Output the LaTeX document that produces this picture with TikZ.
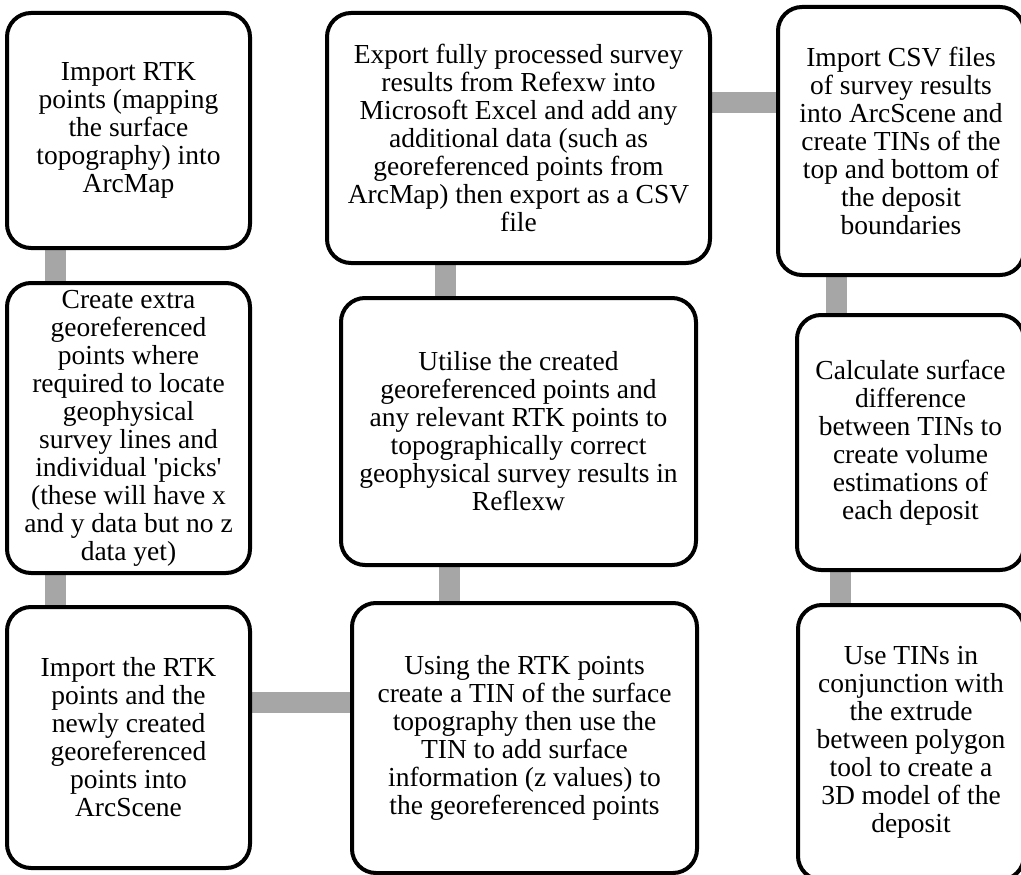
\documentclass[tikz,border=0pt]{standalone}
\usepackage{fontspec}
\setmainfont{Liberation Serif}
\usetikzlibrary{backgrounds}
\definecolor{linkgray}{HTML}{A6A6A6}

\begin{document}
\begin{tikzpicture}[x=1pt, y=-1pt,
        stepbox/.style={draw, line width=4pt, rounded corners=24pt, fill=white,
            align=center, inner sep=0pt, font=\fontsize{27.5}{28}\selectfont},
        link/.style={line width=21pt, draw=linkgray}]

        % Frame of the page (boxes on the right run off the edge)
        \useasboundingbox (0,0) rectangle (1021,875);
        \clip (0,0) rectangle (1021,875);

        % Left column
        \node[stepbox, minimum width=243pt, minimum height=235pt] (rtk) at (128.5,130.5) {Import RTK\\points (mapping\\the surface\\topography) into\\ArcMap};
        \node[stepbox, minimum width=243pt, minimum height=290pt] (extra) at (128.5,428) {Create extra\\georeferenced\\points where\\required to locate\\geophysical\\survey lines and\\individual \textquotesingle picks\textquotesingle\\(these will have x\\and y data but no z\\data yet)};
        \node[stepbox, minimum width=243pt, minimum height=261pt] (arcscene) at (128.5,737.5) {Import the RTK\\points and the\\newly created\\georeferenced\\points into\\ArcScene};

        % Middle column
        \node[stepbox, minimum width=345pt, minimum height=270pt] (tin) at (524.5,738) {Using the RTK points\\create a TIN of the surface\\topography then use the\\TIN to add surface\\information (z values) to\\the georeferenced points};
        \node[stepbox, minimum width=355pt, minimum height=267pt] (reflexw) at (518.5,431.5) {Utilise the created\\georeferenced points and\\any relevant RTK points to\\topographically correct\\geophysical survey results in\\Reflexw};
        \node[stepbox, minimum width=383pt, minimum height=250pt] (export) at (518.5,138) {Export fully processed survey\\results from Refexw into\\Microsoft Excel and add any\\additional data (such as\\georeferenced points from\\ArcMap) then export as a CSV\\file};

        % Right column
        \node[stepbox, minimum width=246pt, minimum height=268pt] (csv) at (901,141) {Import CSV files\\of survey results\\into ArcScene and\\create TINs of the\\top and bottom of\\the deposit\\boundaries};
        \node[stepbox, minimum width=227pt, minimum height=255pt] (volume) at (910.5,442.5) {Calculate surface\\difference\\between TINs to\\create volume\\estimations of\\each deposit};
        \node[stepbox, minimum width=226pt, minimum height=275pt] (model) at (911,742.5) {Use TINs in\\conjunction with\\the extrude\\between polygon\\tool to create a\\3D model of the\\deposit};

        % Gray links behind the boxes
        \begin{scope}[on background layer]
            \draw[link] ([xshift=50.5pt]rtk.south west) -- ([xshift=50.5pt]extra.north west);
            \draw[link] ([xshift=50.5pt]extra.south west) -- ([xshift=50.5pt]arcscene.north west);
            \draw[link] ([yshift=35.5pt]arcscene.east) -- ([yshift=36pt]tin.west);
            \draw[link] ([xshift=99pt]tin.north west) -- ([xshift=110pt]reflexw.south west);
            \draw[link] ([xshift=106pt]reflexw.north west) -- ([xshift=120pt]export.south west);
            \draw[link] ([yshift=35pt]export.east) -- ([yshift=38pt]csv.west);
            \draw[link] ([xshift=60.5pt]csv.south west) -- ([xshift=41.5pt]volume.north west);
            \draw[link] ([xshift=45pt]volume.south west) -- ([xshift=44pt]model.north west);
        \end{scope}
    \end{tikzpicture}
\end{document}
